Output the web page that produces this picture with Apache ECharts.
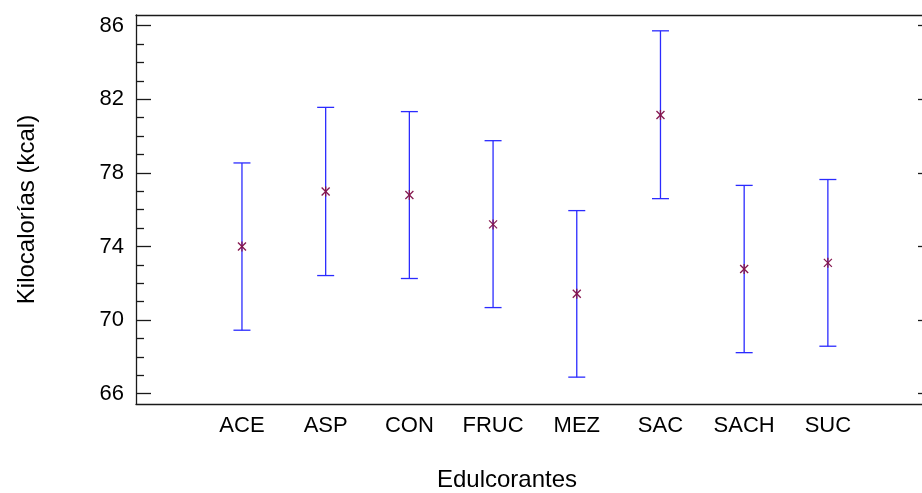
<!DOCTYPE html>
<html lang="es">
<head>
    <meta charset="UTF-8">
    <title>Kilocalorías por edulcorante</title>
    <script type="text/javascript" src="https://cdn.jsdelivr.net/npm/echarts@6/dist/echarts.min.js"></script>
    <style>
        html, body { margin: 0; padding: 0; background: #fff; }
    </style>
</head>
<body>
<div id="main" style="width: 922px;height:493px;"></div>
<script>
    // datos
    var categorias = ['ACE', 'ASP', 'CON', 'FRUC', 'MEZ', 'SAC', 'SACH', 'SUC'];
    var medias = [74.0, 76.99, 76.8, 75.2, 71.43, 81.15, 72.78, 73.11];
    var inferior = [69.45, 72.42, 72.26, 70.68, 66.9, 76.6, 68.23, 68.58];
    var superior = [78.54, 81.56, 81.33, 79.75, 75.95, 85.72, 77.32, 77.64];
    var marcasY = [66, 70, 74, 78, 82, 86];
    var marcasMenores = [67, 68, 69, 71, 72, 73, 75, 76, 77, 79, 80, 81, 83, 84, 85];

    var fuente = '"Liberation Sans", Arial, sans-serif';
    var colorEje = '#1a1a1a';

    var datos = [];
    for (var i = 0; i < categorias.length; i++) {
        datos.push([i, inferior[i], superior[i], medias[i]]);
    }

    function dibujar(params, api) {
        var x = api.value(0);
        var lo = api.coord([x, api.value(1)]);
        var hi = api.coord([x, api.value(2)]);
        var me = api.coord([x, api.value(3)]);
        var cw = 8.5, s = 4;
        var azul = {stroke: '#2b2bff', lineWidth: 1.3};
        var estrella = {stroke: '#85164e', lineWidth: 1.3};
        return {
            type: 'group',
            children: [
                {type: 'line', shape: {x1: lo[0], y1: lo[1], x2: hi[0], y2: hi[1]}, style: azul},
                {type: 'line', shape: {x1: lo[0] - cw, y1: lo[1], x2: lo[0] + cw, y2: lo[1]}, style: azul},
                {type: 'line', shape: {x1: hi[0] - cw, y1: hi[1], x2: hi[0] + cw, y2: hi[1]}, style: azul},
                {type: 'line', shape: {x1: me[0] - s, y1: me[1] - s, x2: me[0] + s, y2: me[1] + s}, style: estrella},
                {type: 'line', shape: {x1: me[0] - s, y1: me[1] + s, x2: me[0] + s, y2: me[1] - s}, style: estrella},
                {type: 'line', shape: {x1: me[0], y1: me[1] - s - 1, x2: me[0], y2: me[1] + s + 1}, style: estrella}
            ]
        };
    }

    var myChart = echarts.init(document.getElementById('main'));

    var option = {
        animation: false,
        backgroundColor: '#fff',
        // el recuadro sigue un poco mas alla del borde derecho
        grid: {left: 136, top: 15, width: 797, height: 389, outerBoundsMode: 'none'},
        xAxis: [{
            type: 'value',
            min: -1.266,
            max: 8.256,
            name: 'Edulcorantes',
            nameLocation: 'middle',
            nameGap: 64,
            nameTextStyle: {fontFamily: fuente, fontSize: 24, color: '#000', padding: [0, 55, 0, 0]},
            splitLine: {show: false},
            axisLine: {show: true, onZero: false, lineStyle: {color: colorEje, width: 1.3}},
            axisTick: {show: false},
            axisLabel: {
                customValues: categorias.map(function (c, i) { return i; }),
                formatter: function (v) { return categorias[Math.round(v)]; },
                fontFamily: fuente, fontSize: 22, color: '#000', margin: 11
            }
        }, {
            type: 'value',
            position: 'top',
            min: -1.266,
            max: 8.256,
            splitLine: {show: false},
            axisLine: {show: true, onZero: false, lineStyle: {color: colorEje, width: 1.3}},
            axisTick: {show: false},
            axisLabel: {show: false}
        }],
        yAxis: [{
            type: 'value',
            min: 65.44,
            max: 86.58,
            name: 'Kilocalorías (kcal)',
            nameLocation: 'middle',
            nameGap: 97,
            nameTextStyle: {fontFamily: fuente, fontSize: 24, color: '#000'},
            splitLine: {show: false},
            axisLine: {show: true, onZero: false, lineStyle: {color: colorEje, width: 1.3}},
            axisTick: {show: true, inside: true, length: 15, customValues: marcasY, lineStyle: {color: colorEje, width: 1.3}},
            axisLabel: {customValues: marcasY, fontFamily: fuente, fontSize: 22, color: '#000', margin: 12}
        }, {
            type: 'value',
            position: 'left',
            min: 65.44,
            max: 86.58,
            splitLine: {show: false},
            axisLine: {show: false, onZero: false},
            axisTick: {show: true, inside: true, length: 8, customValues: marcasMenores, lineStyle: {color: colorEje, width: 1.3}},
            axisLabel: {show: false}
        }, {
            type: 'value',
            position: 'right',
            min: 65.44,
            max: 86.58,
            splitLine: {show: false},
            axisLine: {show: true, onZero: false, lineStyle: {color: colorEje, width: 1.3}},
            axisTick: {show: true, inside: true, length: 15, customValues: marcasY, lineStyle: {color: colorEje, width: 1.3}},
            axisLabel: {show: false}
        }],
        series: [{
            type: 'custom',
            xAxisIndex: 0,
            yAxisIndex: 0,
            renderItem: dibujar,
            encode: {x: 0, y: [1, 2, 3]},
            data: datos
        }]
    };

    myChart.setOption(option);
</script>
</body>
</html>
